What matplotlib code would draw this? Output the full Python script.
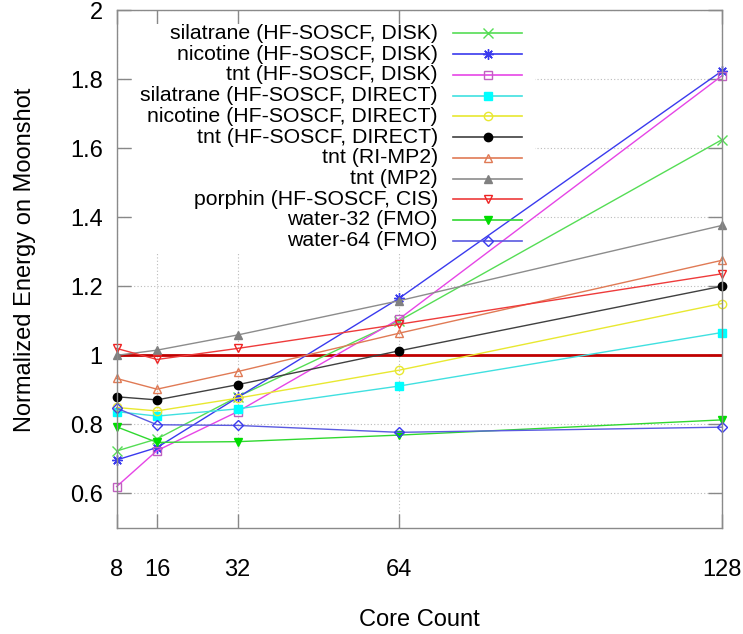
import matplotlib
matplotlib.use("Agg")
import matplotlib.pyplot as plt
from matplotlib.patches import Rectangle

plt.rcParams['font.family'] = ['Liberation Sans', 'DejaVu Sans']

cores = [8, 16, 32, 64, 128]

labels = [
    "silatrane (HF-SOSCF, DISK)",
    "nicotine (HF-SOSCF, DISK)",
    "tnt (HF-SOSCF, DISK)",
    "silatrane (HF-SOSCF, DIRECT)",
    "nicotine (HF-SOSCF, DIRECT)",
    "tnt (HF-SOSCF, DIRECT)",
    "tnt (RI-MP2)",
    "tnt (MP2)",
    "porphin (HF-SOSCF, CIS)",
    "water-32 (FMO)",
    "water-64 (FMO)",
]

silatrane_disk = [0.723, 0.758, 0.880, 1.100, 1.624]
nicotine_disk = [0.697, 0.733, 0.878, 1.165, 1.823]
tnt_disk = [0.620, 0.724, 0.837, 1.105, 1.809]
silatrane_direct = [0.837, 0.824, 0.845, 0.911, 1.066]
nicotine_direct = [0.849, 0.839, 0.876, 0.957, 1.150]
tnt_direct = [0.880, 0.871, 0.915, 1.013, 1.200]
tnt_rimp2 = [0.933, 0.902, 0.953, 1.064, 1.275]
tnt_mp2 = [1.000, 1.015, 1.059, 1.158, 1.376]
porphin_cis = [1.020, 0.988, 1.020, 1.090, 1.236]
water32_fmo = [0.793, 0.748, 0.750, 0.769, 0.813]
water64_fmo = [0.847, 0.799, 0.797, 0.777, 0.792]

series = [silatrane_disk, nicotine_disk, tnt_disk, silatrane_direct,
          nicotine_direct, tnt_direct, tnt_rimp2, tnt_mp2, porphin_cis,
          water32_fmo, water64_fmo]

reference_level = 1.0

xticks = [8, 16, 32, 64, 128]
yticks = [0.6, 0.8, 1.0, 1.2, 1.4, 1.6, 1.8, 2.0]
ytick_labels = ["0.6", "0.8", "1", "1.2", "1.4", "1.6", "1.8", "2"]

# styles: (line color, marker color, marker, filled)
styles = [
    ("#55dd55", "#55dd55", "x", True),
    ("#3a3aee", "#3a3aee", (8, 2, 0), True),
    ("#e645e6", "#c060c0", "s", False),
    ("#40e0e0", "#00ffff", "s", True),
    ("#e8e830", "#e8e830", "o", False),
    ("#404040", "#000000", "o", True),
    ("#e07a55", "#e07a55", "^", False),
    ("#8c8c8c", "#808080", "^", True),
    ("#ee3b3b", "#ee2222", "v", False),
    ("#30d830", "#00dd00", "v", True),
    ("#5a5ae0", "#3a3aee", "D", False),
]
msizes = {"x": 6.5, "s": 6.0, "o": 6.0, "^": 6.0, "v": 6.0, "D": 4.8}

fig = plt.figure(figsize=(7.43, 6.34), dpi=100)
ax = fig.add_axes([0.157, 0.1672, 0.8143, 0.8170])

ax.set_xlim(8, 128)
ax.set_ylim(0.5, 2.0)

ax.set_xticks(xticks)
ax.set_xticklabels([str(v) for v in xticks])
ax.set_yticks(yticks)
ax.set_yticklabels(ytick_labels)

ax.set_axisbelow(True)
ax.grid(True, linestyle=(0, (1, 2)), color="#bbbbbb", linewidth=0.8)

for s in ax.spines.values():
    s.set_color("#8a8a8a")
    s.set_linewidth(1.0)
ax.tick_params(axis="both", which="major", direction="in", length=10,
               width=1.0, color="#888888", top=True, right=True,
               labelsize=17, labelcolor="black")
ax.tick_params(axis="x", pad=22)
ax.tick_params(axis="y", pad=10)

# opaque key box (hides grid only)
ax.add_patch(Rectangle((0.025, 0.531), 0.6665, 0.442, transform=ax.transAxes,
                       facecolor="white", edgecolor="none", zorder=0.7))

ax.axhline(reference_level, color="#c00000", linewidth=2.0, zorder=1.5)

def mk_kwargs(mcol, marker, filled):
    ms = msizes.get(marker, 6.5) if isinstance(marker, str) else 7.5
    kw = dict(marker=marker, markersize=ms, markeredgecolor=mcol,
              markeredgewidth=1.0)
    if filled:
        kw["markerfacecolor"] = mcol
    else:
        kw["markerfacecolor"] = "none"
    return kw

for vals, (lcol, mcol, marker, filled) in zip(series, styles):
    ax.plot(cores, vals, color=lcol, linewidth=1.0, zorder=2, clip_on=False,
            **mk_kwargs(mcol, marker, filled))

# gnuplot-style key: right-aligned text, sample on the right
y0 = 0.955
dy = 0.04004
for i, (lab, (lcol, mcol, marker, filled)) in enumerate(zip(labels, styles)):
    yy = y0 - i * dy
    ax.text(0.531, yy, lab, transform=ax.transAxes, ha="right", va="center",
            fontsize=15.3, color="black", zorder=3)
    ax.plot([0.556, 0.670], [yy, yy], transform=ax.transAxes, color=lcol,
            linewidth=1.2, zorder=3)
    ax.plot([0.614], [yy], transform=ax.transAxes, linestyle="none",
            zorder=3.1, **mk_kwargs(mcol, marker, filled))

ax.set_xlabel("Core Count", fontsize=17)
ax.xaxis.set_label_coords(0.5, -0.1776)
ax.xaxis.label.set_va("center")
ax.set_ylabel("Normalized Energy on Moonshot", fontsize=17)
ax.yaxis.set_label_coords(-0.1516, 0.517)
ax.yaxis.label.set_va("center")

fig.savefig("out.png", dpi=100)
